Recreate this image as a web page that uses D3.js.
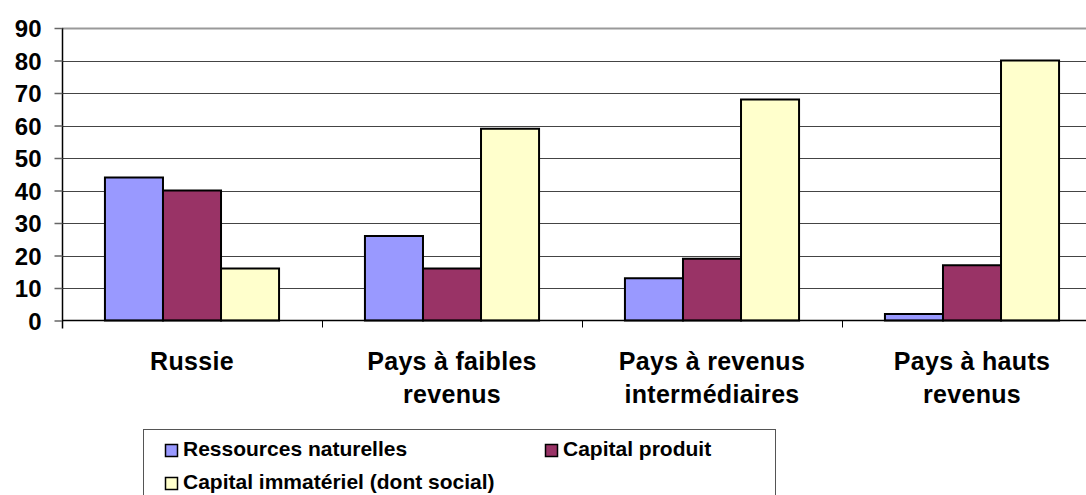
<!DOCTYPE html>
<html><head><meta charset="utf-8">
<script src="https://cdn.jsdelivr.net/npm/d3@7"></script>
<style>body{margin:0;background:#fff;overflow:hidden}svg{display:block}</style>
</head><body>
<svg id="c" width="1086" height="495"></svg>
<script>
const categories = [["Russie"], ["Pays à faibles", "revenus"], ["Pays à revenus", "intermédiaires"], ["Pays à hauts", "revenus"]];
const seriesNames = ["Ressources naturelles", "Capital produit", "Capital immatériel (dont social)"];
const seriesColors = ["#9999FF", "#993366", "#FFFFCC"];
const ressources = [44, 26, 13, 2];
const capitalProduit = [40, 16, 19, 17];
const capitalImmateriel = [16, 59, 68, 80];
const yTicks = [0, 10, 20, 30, 40, 50, 60, 70, 80, 90];

(function () {
const series = [ressources, capitalProduit, capitalImmateriel];
const svg = d3.select("#c");
const font = "Arial, 'Liberation Sans', sans-serif";
const pLeft = 62, pTop = 28, pBottom = 320.5, bandW = 260;
const x = d3.scaleBand().domain(d3.range(categories.length)).range([pLeft, pLeft + bandW * categories.length]);
const y = d3.scaleLinear().domain([0, 90]).range([pBottom, pTop]);
const x1 = d3.scaleBand().domain(d3.range(3)).range([0, x.bandwidth()]).paddingOuter(0.74).paddingInner(0);

// gridlines
svg.append("g").selectAll("line").data(yTicks.filter(d => d > 0)).join("line")
  .attr("x1", pLeft).attr("x2", 1086).attr("y1", d => Math.round(y(d)) + 0.5).attr("y2", d => Math.round(y(d)) + 0.5)
  .attr("stroke", d => d === 90 ? "#999" : "#444").attr("stroke-width", d => d === 90 ? 2 : 1);

// bars
const g = svg.append("g");
series.forEach((s, si) => {
  g.selectAll(null).data(s).join("rect")
    .attr("x", (d, i) => x(i) + x1(si))
    .attr("y", d => y(d))
    .attr("width", x1.bandwidth())
    .attr("height", d => y(0) - y(d))
    .attr("fill", seriesColors[si]).attr("stroke", "#000").attr("stroke-width", 2);
});

// y axis
const ya = d3.axisLeft(y).tickValues(yTicks).tickSize(8).tickPadding(13);
const yg = svg.append("g").attr("transform", `translate(${pLeft + 0.5},0)`).call(ya);
yg.select(".domain").attr("stroke", "#000").attr("stroke-width", 1.5).attr("d", `M0,${pTop}V${pBottom + 8}`);
yg.selectAll(".tick line").attr("stroke", "#666").attr("stroke-width", 1.5);
yg.selectAll("text").attr("font-family", font).attr("font-weight", "bold").attr("font-size", 24).attr("fill", "#000").attr("dy", "0.36em");

// x axis
const xa = d3.axisBottom(x).tickSize(0).tickFormat("");
const xg = svg.append("g").attr("transform", `translate(0,${pBottom})`).call(xa);
xg.select(".domain").attr("stroke", "#000").attr("stroke-width", 1.5).attr("d", `M${pLeft},0H1086`);
xg.selectAll(null).data(d3.range(categories.length + 1)).join("line")
  .attr("x1", i => pLeft + bandW * i + 0.5).attr("x2", i => pLeft + bandW * i + 0.5)
  .attr("y1", 0).attr("y2", 7).attr("stroke", "#000").attr("stroke-width", 1);

// category labels
categories.forEach((lines, i) => {
  const t = svg.append("text").attr("x", x(i) + x.bandwidth() / 2).attr("y", 370)
    .attr("text-anchor", "middle").attr("font-family", font).attr("font-weight", "bold").attr("font-size", 25)
    .attr("letter-spacing", 0.3).attr("fill", "#000");
  lines.forEach((l, j) => t.append("tspan").attr("x", x(i) + x.bandwidth() / 2).attr("dy", j === 0 ? 0 : 33).text(l));
});

// legend
svg.append("rect").attr("x", 143.5).attr("y", 429.5).attr("width", 632).attr("height", 80)
  .attr("fill", "#fff").attr("stroke", "#555").attr("stroke-width", 1);
const legPos = [[165, 456], [545, 456], [165, 489]];
seriesNames.forEach((n, i) => {
  const [lx, ly] = legPos[i];
  svg.append("rect").attr("x", lx + 0.5).attr("y", ly - 11.5).attr("width", 12).attr("height", 12)
    .attr("fill", seriesColors[i]).attr("stroke", "#000").attr("stroke-width", 1.5);
  svg.append("text").attr("x", lx + 18).attr("y", ly)
    .attr("font-family", font).attr("font-weight", "bold").attr("font-size", 21).attr("fill", "#000").text(n);
});
})();
</script>
</body></html>
